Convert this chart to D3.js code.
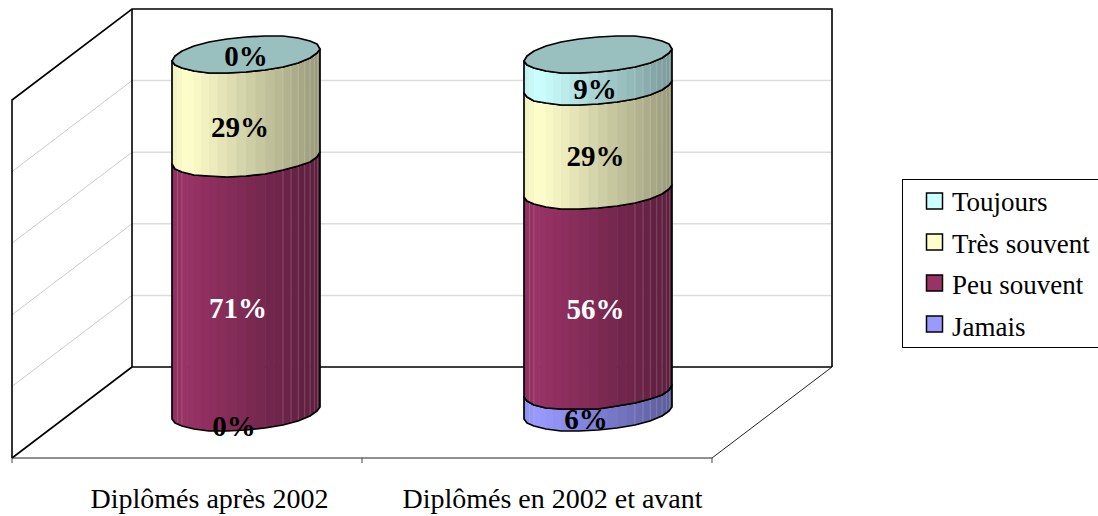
<!DOCTYPE html>
<html>
<head>
<meta charset="utf-8">
<script src="https://cdn.jsdelivr.net/npm/d3@7"></script>
<style>
  body { margin: 0; background: #fff; overflow: hidden; }
  text { font-family: "Liberation Serif", serif; }
</style>
</head>
<body>
<div id="chart"></div>
<script>
var categories = ['Diplômés après 2002', 'Diplômés en 2002 et avant']
var seriesNames = ['Jamais', 'Peu souvent', 'Très souvent', 'Toujours']
var jamais = [0, 6]
var peuSouvent = [71, 56]
var tresSouvent = [29, 29]
var toujours = [0, 9]
var seriesColors = ['#9999FF', '#993366', '#FFFFCC', '#CCFFFF']
var labelColors = ['#000', '#fff', '#000', '#000']
var gridValues = [20, 40, 60, 80]

var width = 1098
var height = 516

// front plane of the box, the back wall is shifted by depth
var plot = { left: 12, right: 712, top: 100, bottom: 458 }
var depth = { x: 120, y: -91 }

// cylinder shape
var radius = 74
var tilt = 6
var minor = 17.5
var outlineSteps = 12
var stripSteps = 24

// hand placed label offsets, [category][series], from the segment middle
var labelNudge = [
  [[-12, 14], [-8, 23], [-6, 21], [0, 2]],
  [[-12, 18], [-2.5, 19], [-2.5, 18], [-3, 19]]
]
var barShift = [-1, 1]
var categoryShift = [22.5, 15.5]

var table = categories.map(function (c, i) {
  return {
    category: c,
    Jamais: jamais[i],
    'Peu souvent': peuSouvent[i],
    'Très souvent': tresSouvent[i],
    Toujours: toujours[i]
  }
})
var stacked = d3.stack().keys(seriesNames)(table)

var x = d3.scaleBand().domain(categories).range([plot.left, plot.right])
var y = d3.scaleLinear().domain([0, 100]).range([plot.bottom, plot.top])

var svg = d3.select('#chart').append('svg')
  .attr('width', width)
  .attr('height', height)
  .style('display', 'block')

var defs = svg.append('defs')

// side gridlines
svg.selectAll('.grid-side').data(gridValues).enter().append('line')
  .attr('x1', plot.left)
  .attr('x2', plot.left + depth.x)
  .attr('y1', function (d) { return y(d) })
  .attr('y2', function (d) { return y(d) + depth.y })
  .attr('stroke', '#ccc')
  .attr('stroke-width', 1)

// back gridlines
svg.selectAll('.grid-back').data(gridValues).enter().append('line')
  .attr('x1', plot.left + depth.x)
  .attr('x2', plot.right + depth.x)
  .attr('y1', function (d) { return y(d) + depth.y })
  .attr('y2', function (d) { return y(d) + depth.y })
  .attr('stroke', '#ddd')
  .attr('stroke-width', 1.5)

// walls
svg.append('path')
  .attr('d', 'M' + plot.left + ',' + y(0) + 'V' + y(100) + 'L' + (plot.left + depth.x) + ',' + (y(100) + depth.y) +
    'H' + (plot.right + depth.x) + 'V' + (y(0) + depth.y))
  .attr('fill', 'none')
  .attr('stroke', '#000')
  .attr('stroke-width', 1.6)

svg.append('path')
  .attr('d', 'M' + (plot.left + depth.x) + ',' + (y(100) + depth.y) + 'V' + (y(0) + depth.y) +
    'H' + (plot.right + depth.x))
  .attr('fill', 'none')
  .attr('stroke', '#000')
  .attr('stroke-width', 1.6)

svg.append('line')
  .attr('x1', plot.left)
  .attr('y1', y(0))
  .attr('x2', plot.left + depth.x)
  .attr('y2', y(0) + depth.y)
  .attr('stroke', '#000')
  .attr('stroke-width', 1.6)

svg.append('line')
  .attr('x1', plot.right)
  .attr('y1', y(0))
  .attr('x2', plot.right + depth.x)
  .attr('y2', y(0) + depth.y)
  .attr('stroke', '#222')
  .attr('stroke-width', 1)

// category axis
var axis = svg.append('g').attr('transform', 'translate(0,' + y(0) + ')')
axis.append('line')
  .attr('x1', plot.left)
  .attr('x2', plot.right)
  .attr('stroke', '#222')
  .attr('stroke-width', 1)
var tickPos = [plot.left].concat(categories.map(function (c) { return x(c) + x.bandwidth() }))
axis.selectAll('.tick').data(tickPos).enter().append('line')
  .attr('x1', function (d) { return d })
  .attr('x2', function (d) { return d })
  .attr('y2', 5)
  .attr('stroke', '#444')
  .attr('stroke-width', 1)

function shade (color, k) {
  var c = d3.rgb(color)
  return d3.rgb(c.r * k, c.g * k, c.b * k).formatHex()
}

function sideFactor (f) {
  if (f < 0.1) return 0.94 + 0.06 * f / 0.1
  return 1 - 0.4 * (f - 0.1) / 0.9
}

// point on the ellipse, a from 0 (left) through PI (right) along the front
function ellipsePoint (cx, yc, a) {
  return [
    Math.round(cx - radius * Math.cos(a)),
    Math.round(yc + tilt * Math.cos(a) + minor * Math.sin(a))
  ]
}

function frontArc (cx, yc) {
  return d3.range(outlineSteps + 1).map(function (i) {
    return ellipsePoint(cx, yc, Math.PI * i / outlineSteps)
  })
}

var line = d3.line().curve(d3.curveLinear)

categories.forEach(function (cat, ci) {
  var cx = x(cat) + x.bandwidth() / 2 + depth.x / 2 + barShift[ci]
  var g = svg.append('g')

  stacked.forEach(function (layer, si) {
    var v0 = layer[ci][0]
    var v1 = layer[ci][1]
    if (v1 - v0 <= 0) return

    var y0 = y(v0) + depth.y / 2
    var y1 = y(v1) + depth.y / 2
    var outline = frontArc(cx, y0).concat(frontArc(cx, y1).reverse())
    var clipId = 'seg-' + ci + '-' + si

    defs.append('clipPath').attr('id', clipId)
      .append('path').attr('d', line(outline) + 'Z')

    var strips = d3.range(stripSteps).map(function (i) {
      return {
        i: i,
        x0: cx - radius * Math.cos(Math.PI * i / stripSteps),
        x1: cx - radius * Math.cos(Math.PI * (i + 1) / stripSteps)
      }
    })

    var seg = g.append('g').attr('clip-path', 'url(#' + clipId + ')')

    seg.selectAll('rect').data(strips).enter().append('rect')
      .attr('x', function (d) { return d.x0 })
      .attr('width', function (d) { return d.x1 - d.x0 + 0.6 })
      .attr('y', y1 - 30)
      .attr('height', y0 - y1 + 60)
      .attr('fill', function (d) {
        return shade(seriesColors[si], sideFactor(((d.x0 + d.x1) / 2 - cx + radius) / (2 * radius)))
      })

    // faint seams, mostly on the dark side
    var seams = strips.filter(function (d) { return (d.i >= 16 && d.i <= 22) || d.i === 3 || d.i === 4 })
    seg.selectAll('line').data(seams).enter().append('line')
      .attr('x1', function (d) { return d.x0 })
      .attr('x2', function (d) { return d.x0 })
      .attr('y1', y1 - 30)
      .attr('y2', y0 + 30)
      .attr('stroke', '#fff')
      .attr('stroke-opacity', 0.18)
      .attr('stroke-width', 1)

    g.append('path')
      .attr('d', line(outline) + 'Z')
      .attr('fill', 'none')
      .attr('stroke', '#000')
      .attr('stroke-width', 1.7)
      .attr('stroke-linejoin', 'round')
  })

  // top cap takes the darkened colour of the last series
  var topY = y(100) + depth.y / 2
  var cap = d3.range(outlineSteps * 2).map(function (i) {
    return ellipsePoint(cx, topY, Math.PI * i / outlineSteps)
  })
  g.append('path')
    .attr('d', line(cap) + 'Z')
    .attr('fill', shade(seriesColors[3], 0.75))
    .attr('stroke', '#000')
    .attr('stroke-width', 1.7)
    .attr('stroke-linejoin', 'round')
})

// data labels sit above both cylinders
categories.forEach(function (cat, ci) {
  var cx = x(cat) + x.bandwidth() / 2 + depth.x / 2 + barShift[ci]
  stacked.forEach(function (layer, si) {
    var v0 = layer[ci][0]
    var v1 = layer[ci][1]
    svg.append('text')
      .attr('x', cx + labelNudge[ci][si][0])
      .attr('y', y((v0 + v1) / 2) + depth.y / 2 + labelNudge[ci][si][1] + 9.5)
      .attr('text-anchor', 'middle')
      .attr('font-size', 29)
      .attr('font-weight', 'bold')
      .attr('fill', labelColors[si])
      .text((v1 - v0) + '%')
  })

  svg.append('text')
    .attr('x', x(cat) + x.bandwidth() / 2 + categoryShift[ci])
    .attr('y', 508)
    .attr('text-anchor', 'middle')
    .attr('font-size', 28)
    .attr('fill', '#000')
    .text(cat)
})

// legend, top entry first
var legend = svg.append('g')
legend.append('rect')
  .attr('x', 902.5)
  .attr('y', 179.5)
  .attr('width', 200)
  .attr('height', 168)
  .attr('fill', '#fff')
  .attr('stroke', '#000')
  .attr('stroke-width', 1)

var legendOrder = seriesNames.slice().reverse()
var keyY = d3.scalePoint().domain(legendOrder).range([201, 324])
var legendTextY = d3.scalePoint().domain(legendOrder).range([211, 336])

legend.selectAll('rect.key').data(seriesNames).enter().append('rect')
  .attr('class', 'key')
  .attr('x', 926.5)
  .attr('y', function (d) { return keyY(d) - 8 })
  .attr('width', 16)
  .attr('height', 16)
  .attr('fill', function (d, i) { return seriesColors[i] })
  .attr('stroke', '#000')
  .attr('stroke-width', 1.5)

legend.selectAll('text').data(seriesNames).enter().append('text')
  .attr('x', 952)
  .attr('y', function (d) { return legendTextY(d) })
  .attr('font-size', 27)
  .attr('fill', '#000')
  .text(function (d) { return d })
</script>
</body>
</html>
